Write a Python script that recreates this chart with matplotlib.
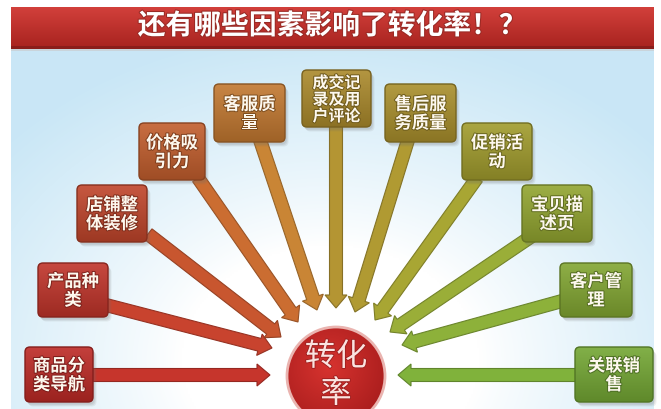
import numpy as np
import matplotlib
matplotlib.use("Agg")
import matplotlib.pyplot as plt
from matplotlib.patches import FancyBboxPatch, FancyArrow, Circle, Rectangle
from matplotlib.colors import to_rgb
import matplotlib.patheffects as pe

plt.rcParams['font.family'] = ['Noto Sans CJK SC', 'DejaVu Sans']

# ---- content ----
title = "还有哪些因素影响了转化率！？"
center_label = "转化\n率"
factors = [
    "商品分\n类导航", "产品种\n类", "店铺整\n体装修", "价格吸\n引力", "客服质\n量",
    "成交记\n录及用\n户评论", "售后服\n务质量", "促销活\n动", "宝贝描\n述页",
    "客户管\n理", "关联销\n售",
]
box_colors = ['#bd2a26', '#c0342a', '#c0452b', '#c25e2d', '#c27830', '#ab8a2c',
              '#a98f2c', '#a19c2d', '#92a530', '#82a632', '#74a734']
arrow_colors = ['#c6352c', '#c8432e', '#c8562f', '#cb6d31', '#c98535', '#b49533',
                '#b09a32', '#a8a633', '#9aae38', '#8db13a', '#80b23b']

# ---- layout (pixel space, y grows downward) ----
box_xy = [(25, 347), (38, 263), (77, 185), (139, 123), (214, 84), (302, 70),
          (385, 84), (462, 123), (522, 185), (560, 263), (575, 347)]
box_wh = [(68, 55), (70, 54), (70, 57), (66, 57), (71, 58), (69, 57),
          (71, 58), (70, 57), (70, 57), (72, 54), (78, 55)]
arrow_start = [(92, 375), (106, 305), (148, 234), (198, 178), (260, 140), (336, 125),
               (408, 140), (477, 178), (532, 236), (562, 301), (577, 375)]
arrow_tip = [(270, 375), (272, 348), (281, 337), (298, 322), (317, 310), (336, 308),
             (355, 312), (375, 320), (390, 332), (402, 345), (398, 375)]
hub_center = (336, 376)
hub_radius = 49

W, H = 661, 409
fig = plt.figure(figsize=(W / 100, H / 100), dpi=100)
ax = fig.add_axes([0, 0, 1, 1])
ax.set_autoscale_on(False)
ax.set_xlim(0, W)
ax.set_ylim(H, 0)
ax.axis('off')


def mix(c, other, t):
    c = np.array(to_rgb(c)); o = np.array(to_rgb(other))
    return c * (1 - t) + o * t


def vgradient(extent, top, bottom, zorder, clip=None, n=80):
    t = np.linspace(0, 1, n)[:, None, None]
    img = np.array(top)[None, None, :] * (1 - t) + np.array(bottom)[None, None, :] * t
    im = ax.imshow(img, extent=extent, aspect='auto', zorder=zorder,
                   interpolation='bilinear')
    if clip is not None:
        im.set_clip_path(clip)
    return im


# ---- backdrop ----
yy, xx = np.mgrid[48:H:2, 11:654:2]
d = np.hypot((xx - 330) / 1.0, (yy - 360) * 1.3)
t = np.clip((d - 150) / 280, 0, 1) ** 0.85
blue = np.array([0.79, 0.905, 0.965])
bg = np.ones(xx.shape + (3,)) * (1 - t[..., None]) + blue * t[..., None]
ax.imshow(bg, extent=(11, 654, H, 48), aspect='auto', zorder=0, interpolation='bilinear')

# ---- title bar ----
bar = Rectangle((11, 7), 643, 41, fc='none', ec='none', zorder=1)
ax.add_patch(bar)
vgradient((11, 654, 48, 7), to_rgb('#d2403b'), to_rgb('#a8231f'), 1, clip=bar)
ax.add_patch(Rectangle((11, 46), 643, 2.5, fc='#8a1d1a', ec='none', zorder=1.1))
ax.add_patch(Rectangle((11, 48.5), 643, 2, fc='#c9c9c9', ec='none', alpha=0.6, zorder=1.1))
ax.text(332, 26, title, ha='center', va='center', color='white', fontsize=20,
        fontweight='bold', zorder=5,
        path_effects=[pe.withStroke(linewidth=1.5, foreground='#9a2a25')])

# ---- arrows ----
for (x0, y0), (x1, y1), c in zip(arrow_start, arrow_tip, arrow_colors):
    ar = FancyArrow(x0, y0, x1 - x0, y1 - y0, width=13, head_width=22, head_length=13,
                    length_includes_head=True, fc=c, ec=mix(c, 'black', 0.25),
                    lw=0.8, zorder=2)
    ax.add_patch(ar)

# ---- factor boxes ----
for label, (x, y), (w, h), c in zip(factors, box_xy, box_wh, box_colors):
    for k, a in enumerate([0.12, 0.12, 0.10]):
        sh = FancyBboxPatch((x + 1.5 + k, y + 2.5 + k), w, h,
                            boxstyle="round,pad=0,rounding_size=5",
                            fc='#6e6e6e', ec='none', alpha=a, zorder=3)
        ax.add_patch(sh)
    box = FancyBboxPatch((x, y), w, h, boxstyle="round,pad=0,rounding_size=5",
                         fc='none', ec=mix(c, 'black', 0.3), lw=1.0, zorder=4.1)
    ax.add_patch(box)
    vgradient((x, x + w, y + h, y), mix(c, 'white', 0.10), mix(c, 'black', 0.18),
              4, clip=box)
    n_lines = label.count("\n") + 1
    fs = 11.5 if n_lines > 2 else 12.5
    ax.text(x + w / 2, y + h / 2 + 1, label, ha='center', va='center',
            color='#fdf8ee', fontsize=fs, fontweight='bold', linespacing=1.05,
            zorder=5,
            path_effects=[pe.withStroke(linewidth=1.4, foreground=mix(c, 'black', 0.35))])

# ---- central hub ----
cx, cy = hub_center
hub = Circle((cx, cy), hub_radius, fc='none', ec='#eab4b0', lw=2.0, zorder=4.1)
ax.add_patch(hub)
gy, gx = np.mgrid[cy - hub_radius:cy + hub_radius:1.0, cx - hub_radius:cx + hub_radius:1.0]
r = np.clip(np.hypot(gx - cx + 8, gy - cy + 10) / (hub_radius * 1.3), 0, 1)[..., None]
inner = np.array(to_rgb('#d7332f')); outer = np.array(to_rgb('#a91d1d'))
himg = inner * (1 - r) + outer * r
im = ax.imshow(himg, extent=(cx - hub_radius, cx + hub_radius, cy + hub_radius, cy - hub_radius),
               aspect='auto', zorder=4, interpolation='bilinear')
im.set_clip_path(hub)
ax.text(cx, cy - 1, center_label, ha='center', va='center', color='#fbe3e0',
        fontsize=22.5, linespacing=1.2, zorder=5,
        path_effects=[pe.withStroke(linewidth=1.2, foreground='#9c1f1f')])

fig.savefig("out.png", dpi=100)
